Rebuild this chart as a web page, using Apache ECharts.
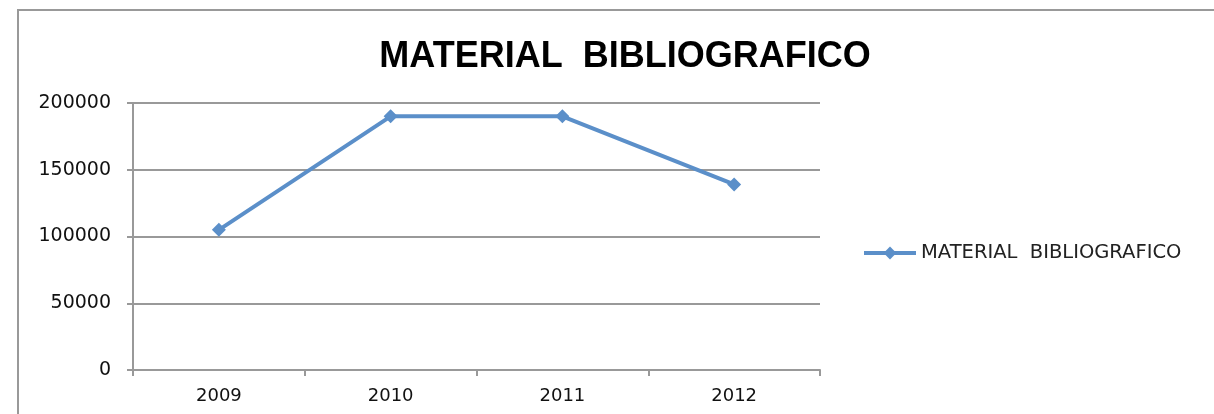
<!DOCTYPE html>
<html>
<head>
<meta charset="utf-8">
<script src="https://cdn.jsdelivr.net/npm/echarts@6/dist/echarts.min.js"></script>
<style>
  html, body { margin: 0; padding: 0; background: #fff; }
  #chart { width: 1214px; height: 414px; }
</style>
</head>
<body>
<div id="chart"></div>
<script>
const years = ['2009', '2010', '2011', '2012']
const material = [105000, 190000, 190000, 139000]
const seriesName = 'MATERIAL  BIBLIOGRAFICO'

const chart = echarts.init(document.getElementById('chart'))

chart.setOption({
  animation: false,
  title: {
    text: 'MATERIAL  BIBLIOGRAFICO',
    left: 620,
    textAlign: 'center',
    top: 34,
    textStyle: { fontFamily: 'Liberation Sans', fontWeight: 'bold', fontSize: 36, color: '#000' }
  },
  graphic: [
    {
      type: 'rect',
      shape: { x: 18, y: 10, width: 1230, height: 430 },
      style: { fill: 'none', stroke: '#999', lineWidth: 2 },
      silent: true
    }
  ],
  legend: {
    left: 857,
    top: 238,
    itemWidth: 52,
    itemHeight: 16,
    itemGap: 4,
    lineStyle: { width: 4 },
    textStyle: { fontFamily: 'DejaVu Sans', fontSize: 19.5, color: '#222' },
    data: [seriesName]
  },
  grid: { left: 133, right: 394, top: 103, bottom: 44 },
  xAxis: {
    type: 'category',
    data: years,
    boundaryGap: true,
    axisLine: { lineStyle: { color: '#999', width: 2 } },
    axisTick: { show: true, length: 6, lineStyle: { color: '#999', width: 2 } },
    axisLabel: { margin: 17, fontFamily: 'DejaVu Sans', fontSize: 18, color: '#111' }
  },
  yAxis: {
    type: 'value',
    min: 0,
    max: 200000,
    interval: 50000,
    axisLine: { show: true, lineStyle: { color: '#999', width: 2 } },
    axisTick: { show: true, length: 6, lineStyle: { color: '#999', width: 2 } },
    axisLabel: {
      margin: 22,
      fontFamily: 'DejaVu Sans',
      fontSize: 19,
      color: '#111',
      formatter: (v) => String(v)
    },
    splitLine: { lineStyle: { color: '#999', width: 2 } }
  },
  series: [
    {
      name: seriesName,
      type: 'line',
      data: material,
      symbol: 'diamond',
      symbolSize: 14,
      lineStyle: { color: '#5B8FC9', width: 4 },
      itemStyle: { color: '#5B8FC9' }
    }
  ]
})
</script>
</body>
</html>
